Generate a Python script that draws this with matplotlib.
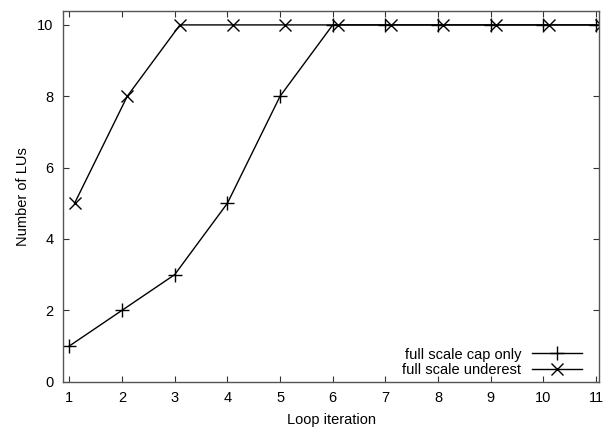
import matplotlib
matplotlib.use("Agg")
import matplotlib.pyplot as plt

plt.rcParams['font.family'] = ['Liberation Sans', 'DejaVu Sans']

iterations = [1, 2, 3, 4, 5, 6, 7, 8, 9, 10, 11]
cap_only = [1, 2, 3, 5, 8, 10, 10, 10, 10, 10, 10]
underest_x = [1.1, 2.1, 3.1, 4.1, 5.1, 6.1, 7.1, 8.1, 9.1, 10.1, 11.1]
underest = [5, 8, 10, 10, 10, 10, 10, 10, 10, 10, 10]
xticks = [1, 2, 3, 4, 5, 6, 7, 8, 9, 10, 11]
yticks = [0, 2, 4, 6, 8, 10]

fs = 10.5
fig = plt.figure(figsize=(6.06, 4.28), dpi=100)
ax = fig.add_axes([63.3/606, 1-381.7/428, (599.3-63.3)/606, (381.7-11)/428])

ax.plot(iterations, cap_only, color='black', lw=1.0, marker='+', ms=10,
        mew=1.0, label='full scale cap only', clip_on=True)
ax.plot(underest_x, underest, color='black', lw=1.0, marker='x', ms=9,
        mew=1.0, label='full scale underest', clip_on=True)

ax.set_xlim(0.886, 11.06)
ax.set_ylim(0, 10.39)
ax.set_xticks(xticks)
ax.set_yticks(yticks)
ax.tick_params(direction='in', length=4, width=0.8, top=True, right=True,
               labelsize=fs, pad=7, color='#333333')
for s in ax.spines.values():
    s.set_color('#555555')
    s.set_linewidth(1.0)

ax.set_xlabel('Loop iteration', fontsize=fs, labelpad=5.5)
ax.set_ylabel('Number of LUs', fontsize=fs, labelpad=5)

leg = ax.legend(loc='lower right', markerfirst=False, frameon=False, fontsize=fs,
                handlelength=3.4, handletextpad=0.75, labelspacing=0.12,
                bbox_to_anchor=(0.978, -0.004), borderaxespad=0.0)

fig.savefig('out.png', dpi=100)
